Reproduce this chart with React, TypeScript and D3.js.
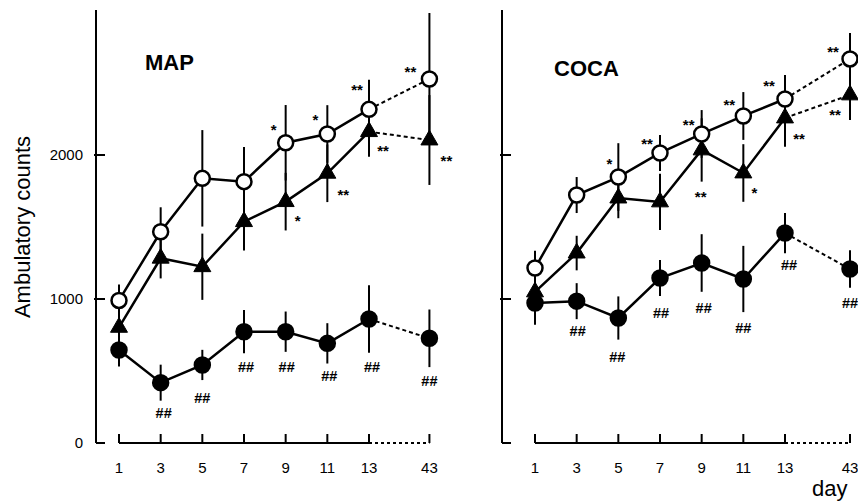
import React from "react";
import * as d3 from "d3";

// days on the x axis (43 sits after a break)
const days = [1, 3, 5, 7, 9, 11, 13, 43];
const yTicks = [0, 1000, 2000];

// MAP panel
const mapOpen = [990, 1467, 1838, 1815, 2085, 2146, 2317, 2528];
const mapOpenErr = [110, 170, 335, 240, 262, 200, 205, 458];
const mapTri = [803, 1283, 1224, 1537, 1676, 1873, 2162, 2104];
const mapTriErr = [90, 140, 230, 200, 200, 200, 175, 312];
const mapFilled = [646, 419, 542, 773, 773, 692, 861, 727];
const mapFilledErr = [115, 125, 105, 150, 140, 140, 235, 200];

// COCA panel
const cocaOpen = [1215, 1722, 1847, 2014, 2146, 2271, 2389, 2667];
const cocaOpenErr = [120, 125, 235, 125, 166, 166, 166, 180];
const cocaTri = [1049, 1319, 1701, 1674, 2035, 1875, 2257, 2417];
const cocaTriErr = [100, 120, 140, 195, 220, 200, 200, 174];
const cocaFilled = [972, 985, 868, 1146, 1250, 1139, 1458, 1208];
const cocaFilledErr = [150, 125, 150, 125, 200, 230, 140, 130];

// significance marks per day ("" = none)
const mapOpenSig = ["", "", "", "", "*", "*", "**", "**"];
const mapTriSig = ["", "", "", "", "*", "**", "**", "**"];
const mapFilledSig = ["", "##", "##", "##", "##", "##", "##", "##"];
const cocaOpenSig = ["", "", "*", "**", "**", "**", "**", "**"];
const cocaTriSig = ["", "", "", "", "**", "*", "**", "**"];
const cocaFilledSig = ["", "##", "##", "##", "##", "##", "##", "##"];

const FONT = "'Liberation Sans', Arial, Helvetica, sans-serif";

// where each mark sits relative to its point (px)
const offsets = {
  mapOpen: [null, null, null, null, [-12, -15], [-12, -16], [-12, -21], [-19, -9]],
  mapTri: [null, null, null, null, [12, 17], [16, 20], [14, 17], [17, 19]],
  mapFilled: [null, [3, 30], [0, 33], [2, 35], [1, 35], [2, 33], [3, 48], [0, 43]],
  cocaOpen: [null, null, [-9, -15], [-13, -11], [-13, -11], [-14, -13], [-16, -15], [-17, -9]],
  cocaTri: [null, null, null, null, [-1, 45], [11, 18], [14, 19], [-15, 18]],
  cocaFilled: [null, [1, 30], [-1, 39], [1, 35], [2, 45], [0, 49], [4, 32], [0, 34]],
};

const y = d3.scaleLinear().domain([0, 3000]).range([443, 11]);

const Panel = ({ axisX, x1, x13, lastSlot, label, labelX, labelY, showLabels, series }) => {
  const x = d3.scaleLinear().domain([0, 6]).range([x1, x13]);
  const slot = i => (i < 7 ? i : lastSlot);
  const px = i => x(slot(i));
  const line = d3.line().x(d => d[0]).y(d => d[1]);
  const tri = d3.symbol(d3.symbolTriangle, 125)();
  const bottom = y(0);

  return (
    <g>
      {/* y axis */}
      <line x1={axisX} x2={axisX} y1={10} y2={bottom} stroke="#000" strokeWidth={2} />
      {yTicks.map(t => (
        <g key={t}>
          <line x1={t === 0 ? axisX : axisX - 2} x2={axisX + 9} y1={y(t)} y2={y(t)} stroke="#000" strokeWidth={2} />
          {showLabels && (
            <text x={axisX - 13} y={y(t) + 5} textAnchor="end" fontSize={15} fontFamily={FONT}>
              {t}
            </text>
          )}
        </g>
      ))}

      {/* x axis */}
      <line x1={px(0)} x2={px(6)} y1={bottom} y2={bottom} stroke="#000" strokeWidth={2} />
      <line x1={px(6)} x2={px(7)} y1={bottom} y2={bottom} stroke="#000" strokeWidth={2} strokeDasharray="3,3" />
      {days.map((d, i) => (
        <g key={d}>
          <line x1={px(i)} x2={px(i)} y1={bottom - 9} y2={bottom} stroke="#000" strokeWidth={2} />
          <text x={px(i)} y={473} textAnchor="middle" fontSize={15} fontFamily={FONT}>
            {d}
          </text>
        </g>
      ))}

      <text x={labelX} y={labelY} fontSize={22} fontWeight="bold" fontFamily={FONT}>
        {label}
      </text>

      {/* lines */}
      {series.map(s => {
        const pts = s.values.map((v, i) => [px(i), y(v)]);
        return (
          <g key={s.key}>
            <path d={line(pts.slice(0, 7))} fill="none" stroke="#000" strokeWidth={2.5} />
            <path d={line(pts.slice(6))} fill="none" stroke="#000" strokeWidth={2} strokeDasharray="4,3" />
          </g>
        );
      })}

      {/* error bars */}
      {series.map(s =>
        s.values.map((v, i) => (
          <line
            key={s.key + i}
            x1={px(i)}
            x2={px(i)}
            y1={y(v + s.err[i])}
            y2={y(v - s.err[i])}
            stroke="#000"
            strokeWidth={2}
          />
        ))
      )}

      {/* markers */}
      {series.map(s =>
        s.values.map((v, i) =>
          s.shape === "tri" ? (
            <path key={s.key + "m" + i} d={tri} transform={`translate(${px(i)},${y(v)})`} fill="#000" stroke="#000" strokeWidth={1} />
          ) : (
            <circle
              key={s.key + "m" + i}
              cx={px(i)}
              cy={y(v)}
              r={7.5}
              fill={s.shape === "open" ? "#fff" : "#000"}
              stroke="#000"
              strokeWidth={2.5}
            />
          )
        )
      )}

      {/* significance marks */}
      {series.map(s =>
        s.sig.map((m, i) => {
          const o = s.off[i];
          if (!m || !o) return null;
          const isStar = m[0] === "*";
          return (
            <text
              key={s.key + "s" + i}
              x={px(i) + o[0]}
              y={y(s.values[i]) + o[1] + (isStar ? 7 : 5)}
              textAnchor="middle"
              fontSize={isStar ? 15 : 14.5}
              fontWeight="bold"
              fontFamily={FONT}
            >
              {m}
            </text>
          );
        })
      )}
    </g>
  );
};

const App = () => {
  const mapSeries = [
    { key: "f", shape: "filled", values: mapFilled, err: mapFilledErr, sig: mapFilledSig, off: offsets.mapFilled },
    { key: "t", shape: "tri", values: mapTri, err: mapTriErr, sig: mapTriSig, off: offsets.mapTri },
    { key: "o", shape: "open", values: mapOpen, err: mapOpenErr, sig: mapOpenSig, off: offsets.mapOpen },
  ];
  const cocaSeries = [
    { key: "f", shape: "filled", values: cocaFilled, err: cocaFilledErr, sig: cocaFilledSig, off: offsets.cocaFilled },
    { key: "t", shape: "tri", values: cocaTri, err: cocaTriErr, sig: cocaTriSig, off: offsets.cocaTri },
    { key: "o", shape: "open", values: cocaOpen, err: cocaOpenErr, sig: cocaOpenSig, off: offsets.cocaOpen },
  ];

  return (
    <svg
      width={858}
      height={501}
      style={{ position: "absolute", left: 0, top: 0, background: "#fff" }}
    >
      <rect width={858} height={501} fill="#fff" />
      <text
        transform="translate(30,227) rotate(-90)"
        textAnchor="middle"
        fontSize={22}
        fontFamily={FONT}
      >
        Ambulatory counts
      </text>
      <Panel
        axisX={96}
        x1={119}
        x13={369}
        lastSlot={7.45}
        label="MAP"
        labelX={145}
        labelY={70}
        showLabels={true}
        series={mapSeries}
      />
      <Panel
        axisX={502}
        x1={535}
        x13={785}
        lastSlot={7.56}
        label="COCA"
        labelX={554}
        labelY={76}
        showLabels={false}
        series={cocaSeries}
      />
      <text x={812} y={496} fontSize={22} fontFamily={FONT}>
        day
      </text>
    </svg>
  );
};

export default App;
